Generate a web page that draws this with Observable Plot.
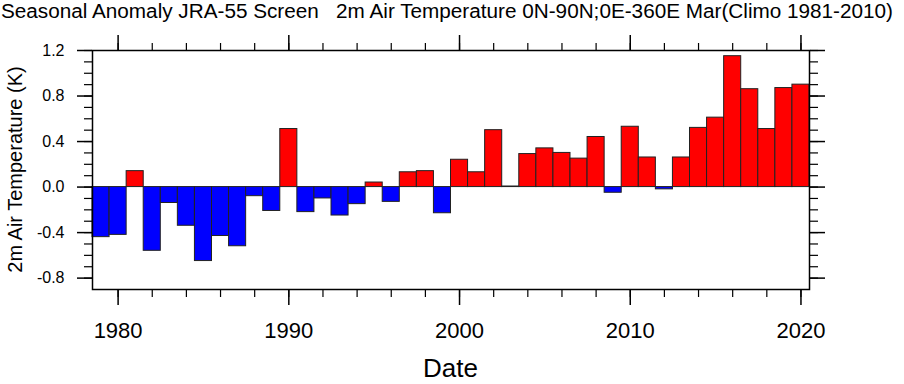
<!DOCTYPE html>
<html>
<head>
<meta charset="utf-8">
<script src="https://cdn.jsdelivr.net/npm/d3@7"></script>
<script src="https://cdn.jsdelivr.net/npm/@observablehq/plot@0.6"></script>
<style>
  html, body { margin: 0; padding: 0; background: #fff; }
  #chart { width: 904px; height: 384px; }
</style>
</head>
<body>
<div id="chart"></div>
<script>
const titleText = "Seasonal Anomaly JRA-55 Screen   2m Air Temperature 0N-90N;0E-360E Mar(Climo 1981-2010)";
const yTitle = "2m Air Temperature (K)";
const xTitle = "Date";

const years = [1979, 1980, 1981, 1982, 1983, 1984, 1985, 1986, 1987, 1988,
  1989, 1990, 1991, 1992, 1993, 1994, 1995, 1996, 1997, 1998,
  1999, 2000, 2001, 2002, 2003, 2004, 2005, 2006, 2007, 2008,
  2009, 2010, 2011, 2012, 2013, 2014, 2015, 2016, 2017, 2018,
  2019, 2020];
const anomalies = [-0.44, -0.42, 0.14, -0.56, -0.14, -0.34, -0.65, -0.43, -0.52, -0.08,
  -0.21, 0.51, -0.22, -0.10, -0.25, -0.15, 0.04, -0.13, 0.13, 0.14,
  -0.23, 0.24, 0.13, 0.50, 0.005, 0.29, 0.34, 0.30, 0.25, 0.44,
  -0.05, 0.53, 0.26, -0.02, 0.26, 0.52, 0.61, 1.15, 0.86, 0.51,
  0.87, 0.90];

const xMajorTicks = [1980, 1990, 2000, 2010, 2020];
const xMinorTicks = [1980, 1982, 1984, 1986, 1988, 1990, 1992, 1994, 1996, 1998, 2000,
  2002, 2004, 2006, 2008, 2010, 2012, 2014, 2016, 2018, 2020];
const yMajorTicks = [-0.8, -0.4, 0.0, 0.4, 0.8, 1.2];
const yMinorTicks = [-0.8, -0.7, -0.6, -0.5, -0.4, -0.3, -0.2, -0.1, 0.0, 0.1, 0.2, 0.3,
  0.4, 0.5, 0.6, 0.7, 0.8, 0.9, 1.0, 1.1, 1.2];

const data = years.map((yr, i) => ({year: yr, value: anomalies[i]}));

const FONT = "'Liberation Sans', Arial, Helvetica, sans-serif";

const svg = Plot.plot({
  width: 904,
  height: 384,
  marginLeft: 92,
  marginRight: 95,
  marginTop: 50,
  marginBottom: 95,
  style: {fontFamily: FONT, background: "#fff", color: "#000", overflow: "visible"},
  x: {type: "linear", domain: [1978.5, 2020.5]},
  y: {domain: [-0.9, 1.2]},
  color: {type: "identity"},
  marks: [
    Plot.rect(data, {
      x1: d => d.year - 0.5,
      x2: d => d.year + 0.5,
      y1: 0,
      y2: "value",
      fill: d => d.value >= 0 ? "#ff0000" : "#0000ff",
      stroke: "#222",
      strokeWidth: 1
    }),
    Plot.frame({stroke: "#000", strokeWidth: 1.5}),
    // bottom axis
    Plot.axisX({anchor: "bottom", ticks: xMinorTicks, tickSize: 8, text: null, label: null, strokeWidth: 1.2}),
    Plot.axisX({anchor: "bottom", ticks: xMajorTicks, tickSize: 16, tickPadding: 17, label: null,
      tickFormat: d => String(d), fontSize: 22, strokeWidth: 1.5}),
    // top axis
    Plot.axisX({anchor: "top", ticks: xMinorTicks, tickSize: 8, text: null, label: null, strokeWidth: 1.2}),
    Plot.axisX({anchor: "top", ticks: xMajorTicks, tickSize: 16, text: null, label: null, strokeWidth: 1.5}),
    // left axis
    Plot.axisY({anchor: "left", ticks: yMinorTicks, tickSize: 8, text: null, label: null, strokeWidth: 1.2}),
    Plot.axisY({anchor: "left", ticks: yMajorTicks, tickSize: 15, tickPadding: 13, label: null,
      tickFormat: d => d.toFixed(1), fontSize: 16, strokeWidth: 1.5}),
    // right axis
    Plot.axisY({anchor: "right", ticks: yMinorTicks, tickSize: 8, text: null, label: null, strokeWidth: 1.2}),
    Plot.axisY({anchor: "right", ticks: yMajorTicks, tickSize: 15, text: null, label: null, strokeWidth: 1.5})
  ]
});

const s = d3.select(svg);
s.append("text")
  .attr("x", 1).attr("y", 18)
  .attr("text-anchor", "start")
  .attr("font-size", 20)
  .attr("font-family", FONT)
  .attr("fill", "#000")
  .attr("textLength", 892)
  .attr("lengthAdjust", "spacingAndGlyphs")
  .style("white-space", "pre")
  .text(titleText);

s.append("text")
  .attr("transform", "translate(21.5,169.5) rotate(-90)")
  .attr("text-anchor", "middle")
  .attr("font-size", 20)
  .attr("font-family", FONT)
  .attr("fill", "#000")
  .text(yTitle);

s.append("text")
  .attr("x", 450.5).attr("y", 377)
  .attr("text-anchor", "middle")
  .attr("font-size", 26)
  .attr("font-family", FONT)
  .attr("fill", "#000")
  .text(xTitle);

document.getElementById("chart").appendChild(svg);
</script>
</body>
</html>
